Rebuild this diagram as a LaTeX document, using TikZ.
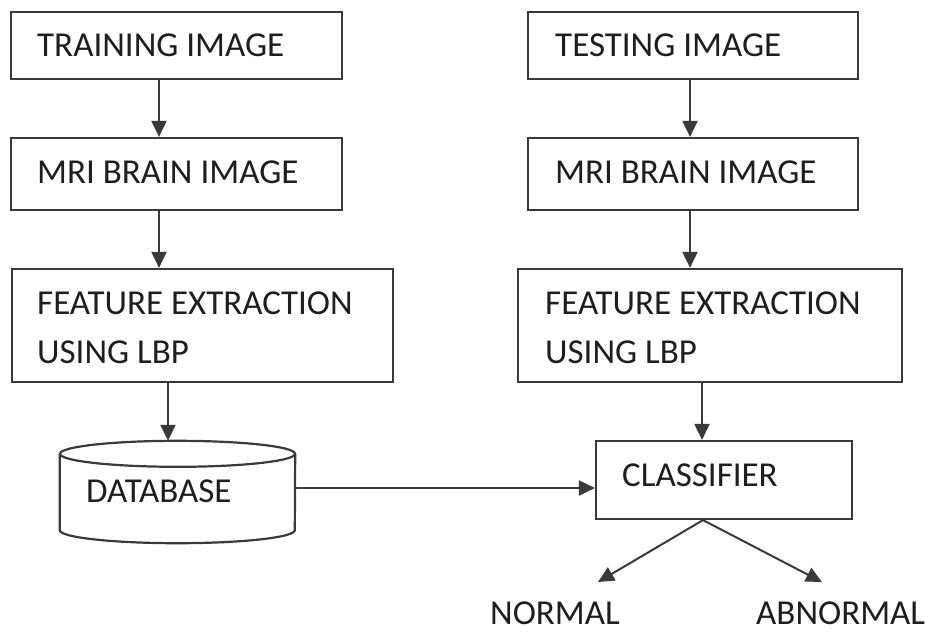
\documentclass[tikz,border=0pt]{standalone}
\usepackage{fontspec}
\setmainfont{Carlito}
\usetikzlibrary{arrows.meta,calc}
\definecolor{ln}{HTML}{3A3A3A}
\definecolor{tx}{HTML}{1E1E1E}
\begin{document}
\begin{tikzpicture}[x=1pt,y=-1pt,
  box/.style={draw=ln,line width=2.2pt,rectangle,inner sep=0pt},
  lbl/.style={anchor=base west,inner sep=0pt,text=tx,font=\fontsize{35}{49}\selectfont,align=left},
  arr/.style={draw=ln,line width=2pt,-{Triangle[width=15pt,length=16pt]}},
  cyl/.style={draw=ln,line width=2.2pt}]
\useasboundingbox (0,0) rectangle (933,632);
\fill[white] (0,0) rectangle (933,632);

% left column
\node[box,minimum width=331pt,minimum height=67pt] (b1) at (176.5,45.5) {};
\node[box,minimum width=331pt,minimum height=72pt] (b2) at (176.5,174) {};
\node[box,minimum width=381pt,minimum height=113pt] (b3) at (202.5,325.5) {};
\node[inner sep=0pt,minimum width=235pt,minimum height=102pt] (db) at (177.5,492) {};

% right column
\node[box,minimum width=330pt,minimum height=67pt] (r1) at (693,45.5) {};
\node[box,minimum width=330pt,minimum height=72pt] (r2) at (693,174) {};
\node[box,minimum width=384pt,minimum height=113pt] (r3) at (710,325.5) {};
\node[box,minimum width=256pt,minimum height=78pt] (cl) at (724,480) {};

% texts
\node[lbl] (t1) at (37,56) {TRAINING IMAGE};
\node[lbl] (t2) at (37,183) {MRI BRAIN IMAGE};
\node[lbl] (t3) at (37,363) {FEATURE EXTRACTION\\USING LBP};
\node[lbl] (t4) at (86,502) {DATABASE};
\node[lbl] (u1) at (555,56) {TESTING IMAGE};
\node[lbl] (u2) at (555,183) {MRI BRAIN IMAGE};
\node[lbl] (u3) at (545,363) {FEATURE EXTRACTION\\USING LBP};
\node[lbl] (u4) at (622,486) {CLASSIFIER};
\node[lbl] (nrm) at (490,624) {NORMAL};
\node[lbl] (abn) at (756,624) {ABNORMAL};

% cylinder
\coordinate (dbtc) at ($(db.north)+(0,13)$);
\coordinate (dbbc) at ($(db.south)+(0,-13)$);
\draw[cyl] (dbtc) ellipse [x radius=117.5pt, y radius=13pt];
\draw[cyl] (db.west |- dbtc) -- (db.west |- dbbc)
  arc[start angle=180, end angle=360, x radius=117.5pt, y radius=13pt]
  -- (db.east |- dbtc);

% connector helper coordinates
\coordinate (xa) at (159,0);
\coordinate (xb) at (168,0);
\coordinate (xc) at (690,0);
\coordinate (xd) at (702,0);
\coordinate (xe) at (703,0);
\coordinate (ya) at (0,488);
\coordinate (nt) at (598,582);
\coordinate (at) at (822,582);

\draw[arr] (b1.south -| xa) -- (b2.north -| xa);
\draw[arr] (b2.south -| xa) -- (b3.north -| xa);
\draw[arr] (b3.south -| xb) -- (db.north -| xb);
\draw[arr] (r1.south -| xc) -- (r2.north -| xc);
\draw[arr] (r2.south -| xc) -- (r3.north -| xc);
\draw[arr] (r3.south -| xd) -- (cl.north -| xd);
\draw[arr] (db.east |- ya) -- (cl.west |- ya);
\draw[arr] (cl.south -| xe) -- (nt);
\draw[arr] (cl.south -| xe) -- (at);
\end{tikzpicture}
\end{document}
